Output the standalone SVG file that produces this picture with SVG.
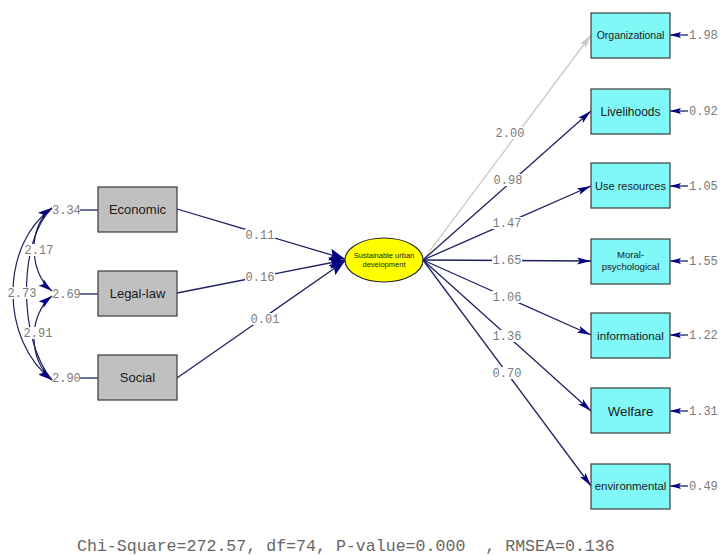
<svg xmlns="http://www.w3.org/2000/svg" width="724" height="555" viewBox="0 0 724 555">
<style>
.bg{fill:#ffffff}
.lbox{fill:#c0c0c0;stroke:#3a3a3a;stroke-width:1.2}
.rbox{fill:#80f8f8;stroke:#3a3a3a;stroke-width:1.2}
.lat{fill:#ffff00;stroke:#2a2a2a;stroke-width:1.2}
.bt{font-family:"Liberation Sans",Arial,sans-serif;fill:#1a1a1a;text-anchor:middle}
.num{font-family:"Liberation Mono","Courier New",monospace;font-size:12px;fill:#7a7a7a}
.lab{text-anchor:middle}
.lbg{fill:#ffffff}
.path{fill:none;stroke:#1e2260;stroke-width:1.3}
.gray{fill:none;stroke:#c8c8c8;stroke-width:1.3}
.cov{fill:none;stroke:#1e2260;stroke-width:1.2}
.fit{font-family:"Liberation Mono","Courier New",monospace;font-size:16.6px;fill:#666666}
</style>
<defs>
<marker id="ah" markerUnits="userSpaceOnUse" markerWidth="14" markerHeight="10" viewBox="0 0 14 10" refX="14" refY="5" orient="auto">
<path d="M0,1.5 L14,5 L0,8.5 L3,5 z" fill="#000080"/>
</marker>
<marker id="ahg" markerUnits="userSpaceOnUse" markerWidth="14" markerHeight="10" viewBox="0 0 14 10" refX="14" refY="5" orient="auto">
<path d="M0,1.5 L14,5 L0,8.5 L3,5 z" fill="#c8c8c8"/>
</marker>
<marker id="ahb" markerUnits="userSpaceOnUse" markerWidth="16" markerHeight="14" viewBox="0 0 16 14" refX="16" refY="7" orient="auto">
<path d="M0,1 L16,7 L0,13 L3,7 z" fill="#000080"/>
</marker>
<marker id="ahs" markerUnits="userSpaceOnUse" markerWidth="11" markerHeight="8" viewBox="0 0 11 8" refX="11" refY="4" orient="auto">
<path d="M0,1 L11,4 L0,7 L2,4 z" fill="#000080"/>
</marker>
<marker id="ahc" markerUnits="userSpaceOnUse" markerWidth="14" markerHeight="10" viewBox="0 0 14 10" refX="14" refY="5" orient="auto-start-reverse">
<path d="M0,1 L14,5 L0,9 L3,5 z" fill="#000080"/>
</marker>
</defs>
<rect class="bg" x="0" y="0" width="724" height="555"/>

<g id="connectors">
  <!-- covariances -->
  <path class="cov" d="M52,208 C28,225 28,272 52,291" marker-start="url(#ahc)" marker-end="url(#ahc)"/>
  <path class="cov" d="M52,208 C0,245 0,340 52,380" marker-start="url(#ahc)" marker-end="url(#ahc)"/>
  <path class="cov" d="M52,296 C28,315 28,360 52,380" marker-start="url(#ahc)" marker-end="url(#ahc)"/>
  <path class="cov" d="M52,208 C18,240 18,340 52,380"/>
  <!-- label-to-box ticks -->
  <line class="path" x1="80" y1="210" x2="98" y2="210"/>
  <line class="path" x1="80" y1="294" x2="98" y2="294"/>
  <line class="path" x1="80" y1="378" x2="98" y2="378"/>
  <!-- structural paths -->
  <line class="path" x1="177" y1="209" x2="345" y2="259" marker-end="url(#ahb)"/>
  <line class="path" x1="177" y1="293" x2="345" y2="260" marker-end="url(#ahb)"/>
  <line class="path" x1="177" y1="378" x2="345" y2="261" marker-end="url(#ahb)"/>
  <!-- loadings -->
  <line class="gray" x1="423" y1="260" x2="591" y2="35" marker-end="url(#ahg)"/>
  <line class="path" x1="423" y1="260" x2="591" y2="111" marker-end="url(#ah)"/>
  <line class="path" x1="423" y1="260" x2="591" y2="186" marker-end="url(#ah)"/>
  <line class="path" x1="423" y1="260" x2="591" y2="261" marker-end="url(#ah)"/>
  <line class="path" x1="423" y1="260" x2="591" y2="335" marker-end="url(#ah)"/>
  <line class="path" x1="423" y1="260" x2="591" y2="411" marker-end="url(#ah)"/>
  <line class="path" x1="423" y1="260" x2="591" y2="486" marker-end="url(#ah)"/>
  <!-- residual arrows -->
  <line class="path" x1="688" y1="35" x2="670" y2="35" marker-end="url(#ahs)"/>
  <line class="path" x1="688" y1="111" x2="670" y2="111" marker-end="url(#ahs)"/>
  <line class="path" x1="688" y1="186" x2="670" y2="186" marker-end="url(#ahs)"/>
  <line class="path" x1="688" y1="261" x2="670" y2="261" marker-end="url(#ahs)"/>
  <line class="path" x1="688" y1="335" x2="670" y2="335" marker-end="url(#ahs)"/>
  <line class="path" x1="688" y1="411" x2="670" y2="411" marker-end="url(#ahs)"/>
  <line class="path" x1="688" y1="486" x2="670" y2="486" marker-end="url(#ahs)"/>
  <!-- label backgrounds -->
  <rect class="lbg" x="245" y="229" width="30" height="12"/>
  <rect class="lbg" x="245" y="271" width="30" height="12"/>
  <rect class="lbg" x="250" y="313" width="30" height="12"/>
  <rect class="lbg" x="495" y="127" width="30" height="12"/>
  <rect class="lbg" x="493" y="174" width="30" height="12"/>
  <rect class="lbg" x="492" y="217" width="30" height="12"/>
  <rect class="lbg" x="492" y="254" width="30" height="12"/>
  <rect class="lbg" x="492" y="291" width="30" height="12"/>
  <rect class="lbg" x="492" y="330" width="30" height="12"/>
  <rect class="lbg" x="492" y="367" width="30" height="12"/>
  <rect class="lbg" x="25" y="244" width="29" height="12"/>
  <rect class="lbg" x="8" y="287" width="29" height="12"/>
  <rect class="lbg" x="24" y="327" width="29" height="12"/>
  <!-- path labels -->
  <text class="num lab" x="260" y="239">0.11</text>
  <text class="num lab" x="260" y="281">0.16</text>
  <text class="num lab" x="265" y="323">0.01</text>
  <text class="num lab" x="510" y="137">2.00</text>
  <text class="num lab" x="508" y="184">0.98</text>
  <text class="num lab" x="507" y="227">1.47</text>
  <text class="num lab" x="507" y="264">1.65</text>
  <text class="num lab" x="507" y="301">1.06</text>
  <text class="num lab" x="507" y="340">1.36</text>
  <text class="num lab" x="507" y="377">0.70</text>
  <text class="num lab" x="39" y="254">2.17</text>
  <text class="num lab" x="22" y="297">2.73</text>
  <text class="num lab" x="38" y="337">2.91</text>
</g>

<g id="var-economic">
  <rect class="lbox" x="98" y="187" width="79" height="45"/>
  <text class="bt" x="137.5" y="214" font-size="13">Economic</text>
  <text class="num" x="52" y="214">3.34</text>
</g>
<g id="var-legal-law">
  <rect class="lbox" x="98" y="271" width="79" height="45"/>
  <text class="bt" x="137.5" y="298" font-size="13">Legal-law</text>
  <text class="num" x="52" y="298">2.69</text>
</g>
<g id="var-social">
  <rect class="lbox" x="98" y="355" width="79" height="45"/>
  <text class="bt" x="137.5" y="382" font-size="13">Social</text>
  <text class="num" x="52" y="382">2.90</text>
</g>

<g id="latent-sustainable">
  <ellipse class="lat" cx="384" cy="260" rx="39" ry="22"/>
  <text class="bt" x="384" y="258" font-size="7.5">Sustainable urban</text>
  <text class="bt" x="384" y="267" font-size="7.5">development</text>
</g>

<g id="var-organizational">
  <rect class="rbox" x="591" y="13" width="79" height="45"/>
  <text class="bt" x="630.5" y="39" font-size="10.5">Organizational</text>
  <text class="num" x="689" y="39">1.98</text>
</g>
<g id="var-livelihoods">
  <rect class="rbox" x="591" y="89" width="79" height="45"/>
  <text class="bt" x="630.5" y="115.5" font-size="12">Livelihoods</text>
  <text class="num" x="689" y="115">0.92</text>
</g>
<g id="var-use-resources">
  <rect class="rbox" x="591" y="163" width="79" height="45"/>
  <text class="bt" x="630.5" y="190" font-size="11">Use resources</text>
  <text class="num" x="689" y="190">1.05</text>
</g>
<g id="var-moral">
  <rect class="rbox" x="591" y="239" width="79" height="45"/>
  <text class="bt" x="630.5" y="258" font-size="9.6">Moral-</text>
  <text class="bt" x="630.5" y="270" font-size="9.6">psychological</text>
  <text class="num" x="689" y="265">1.55</text>
</g>
<g id="var-informational">
  <rect class="rbox" x="591" y="313" width="79" height="45"/>
  <text class="bt" x="630.5" y="339.5" font-size="11.7">informational</text>
  <text class="num" x="689" y="339">1.22</text>
</g>
<g id="var-welfare">
  <rect class="rbox" x="591" y="388" width="79" height="45"/>
  <text class="bt" x="630.5" y="415.5" font-size="13.3">Welfare</text>
  <text class="num" x="689" y="415">1.31</text>
</g>
<g id="var-environmental">
  <rect class="rbox" x="591" y="464" width="79" height="45"/>
  <text class="bt" x="630.5" y="490" font-size="11.4">environmental</text>
  <text class="num" x="689" y="490">0.49</text>
</g>

<text class="fit" x="77" y="551" xml:space="preserve">Chi-Square=272.57, df=74, P-value=0.000  , RMSEA=0.136</text>
</svg>
